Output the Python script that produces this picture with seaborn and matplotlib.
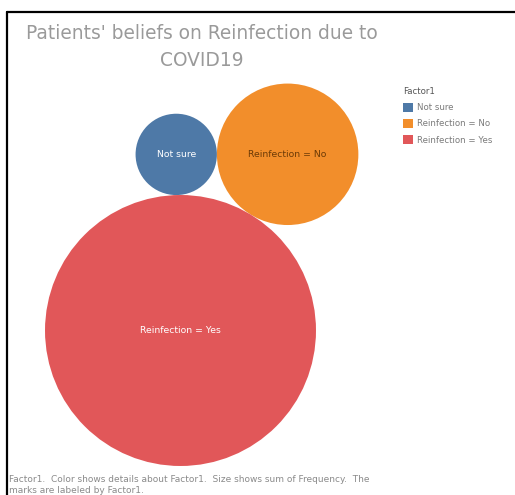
import numpy as np
import pandas as pd
import seaborn as sns
import matplotlib
matplotlib.use("Agg")
import matplotlib.pyplot as plt
from matplotlib.patches import Patch
from matplotlib.lines import Line2D

# ---- data ----
categories = ["Not sure", "Reinfection = No", "Reinfection = Yes"]
frequency = [40, 121, 444]
colors = ["#4e79a7", "#f28e2b", "#e15759"]
label_colors = ["#ffffff", "#6b3a06", "#ffffff"]
title = "Patients' beliefs on Reinfection due to\nCOVID19"
legend_title = "Factor1"
footnote = ("Factor1.  Color shows details about Factor1.  Size shows sum of Frequency.  The\n"
            "marks are labeled by Factor1.")

W, H, DPI = 515, 495, 100
sns.set_theme(style="white")
plt.rcParams["font.family"] = ["DejaVu Sans"]

# ---- simple bubble packing (pixel units) ----
k = 6.43                                  # pixels per sqrt(frequency)
r = k * np.sqrt(np.array(frequency, float))
r_bl, r_or, r_rd = r
theta = np.deg2rad(58.7)
c_rd = np.array([0.0, 0.0])
c_or = c_rd + (r_rd + r_or) * np.array([np.cos(theta), np.sin(theta)])
d1, d2 = r_rd + r_bl, r_or + r_bl
d = np.linalg.norm(c_or - c_rd)
u = (c_or - c_rd) / d
a = (d1**2 - d2**2 + d**2) / (2 * d)
h = np.sqrt(d1**2 - a**2)
perp = np.array([-u[1], u[0]])
c_bl = c_rd + a * u + h * perp

df = pd.DataFrame({
    "Factor1": categories,
    "Frequency": frequency,
    "x": [c_bl[0], c_or[0], c_rd[0]],
    "y": [c_bl[1], c_or[1], c_rd[1]],
})

fig = plt.figure(figsize=(W / DPI, H / DPI), dpi=DPI)
ax = fig.add_axes([0, 0, 1, 1])
# map data so that red centre sits at pixel (180.5, 330.5)
ox, oy = 180.5, H - 330.5
ax.set_xlim(-ox, W - ox)
ax.set_ylim(-oy, H - oy)
ax.set_axis_off()

pt = 72.0 / DPI
smax = (2 * k * pt) ** 2 * max(frequency)
sns.scatterplot(data=df, x="x", y="y", hue="Factor1", palette=colors,
                size="Frequency", sizes=(0, smax), size_norm=(0, max(frequency)),
                linewidth=0, alpha=1, legend=False, ax=ax)

for i, row in df.iterrows():
    ax.text(row["x"], row["y"], row["Factor1"], ha="center", va="center",
            fontsize=6.7, color=label_colors[i])

# title
fig.text(202 / W, 1 - 24 / H, title, ha="center", va="top", fontsize=13.4,
         color="#9a9a9a", linespacing=1.5)

# legend
handles = [Patch(facecolor=c, edgecolor="none", label=l) for c, l in zip(colors, categories)]
leg = fig.legend(handles=handles, title=legend_title, loc="upper left",
                 bbox_to_anchor=(403 / W, 1 - 87 / H), frameon=False,
                 fontsize=6.2, title_fontsize=6.2, handlelength=1.2, handleheight=1.2,
                 handletextpad=0.45, labelspacing=0.8, borderaxespad=0, borderpad=0)
leg._legend_box.align = "left"
for t in leg.get_texts():
    t.set_color("#7a7a7a")
leg.get_title().set_color("#555555")

# footnote
fig.text(9 / W, 1 - 475 / H, footnote, ha="left", va="top", fontsize=6.5,
         color="#8a8a8a", linespacing=1.3)

# frame lines (left and top)
fig.add_artist(Line2D([7.3 / W, 7.3 / W], [0, 1 - 12.3 / H], color="black", lw=1.6,
                      transform=fig.transFigure))
fig.add_artist(Line2D([7.3 / W, 1], [1 - 12.3 / H, 1 - 12.3 / H], color="black", lw=1.6,
                      transform=fig.transFigure))

fig.savefig("out.png", dpi=DPI, facecolor="white")
